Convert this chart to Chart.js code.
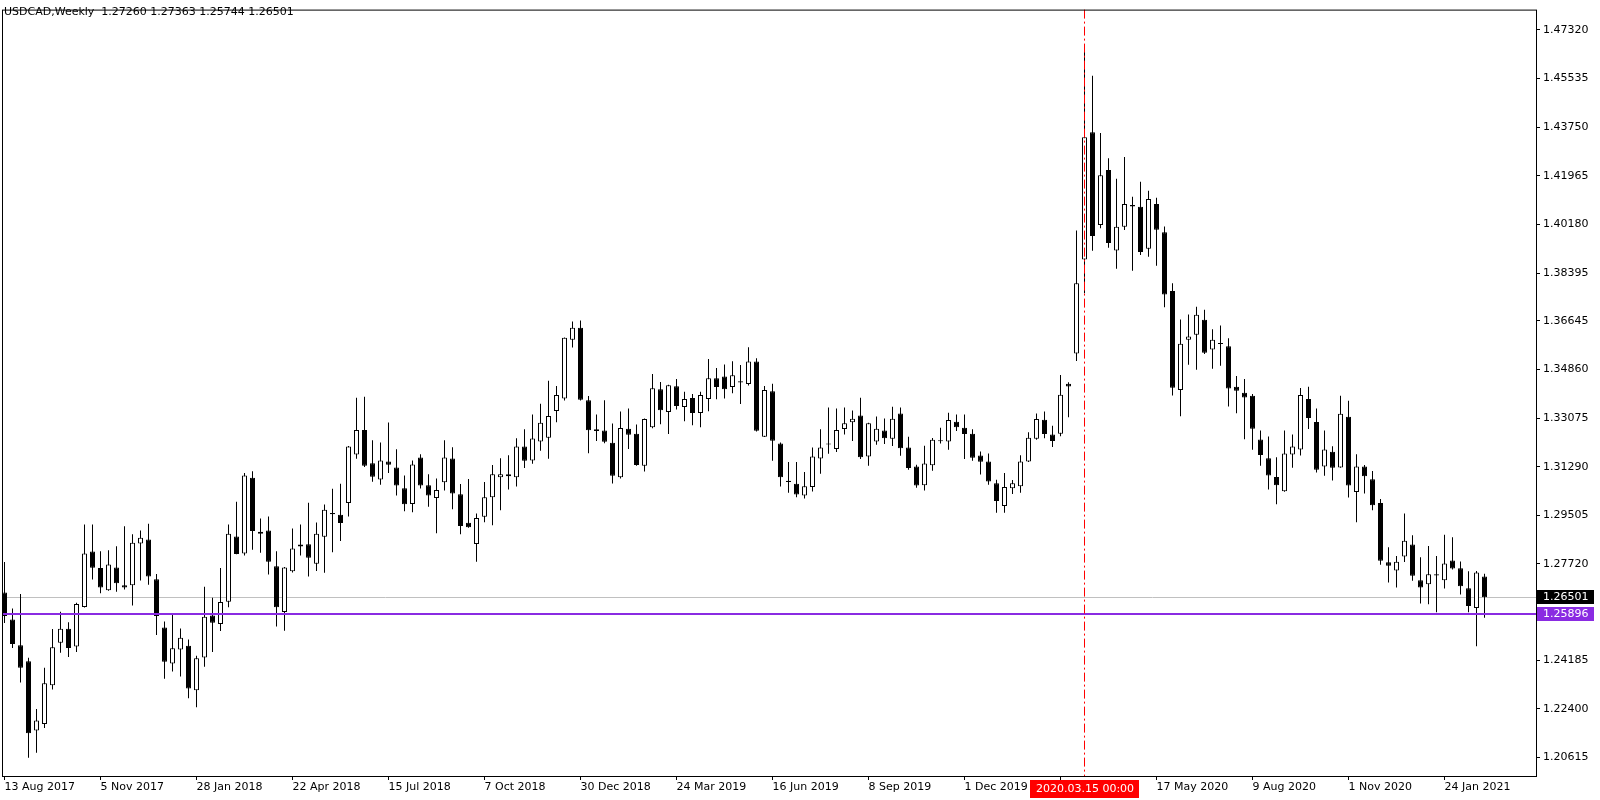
<!DOCTYPE html>
<html>
<head>
<meta charset="utf-8">
<title>USDCAD Weekly</title>
<script src="https://cdn.jsdelivr.net/npm/chart.js@4.4.1/dist/chart.umd.min.js"></script>
<style>
  html, body { margin: 0; padding: 0; background: #fff; }
  canvas { display: block; }
</style>
</head>
<body>
<canvas id="chart" width="1600" height="800"></canvas>
<script>
var symbol = 'USDCAD,Weekly'

// weekly candles, first one = week of 13 Aug 2017
var open = [1.2667, 1.2568, 1.2474, 1.2415, 1.2161, 1.2185, 1.2327, 1.2483, 1.2534, 1.2469,
    1.2614, 1.2818, 1.2757, 1.2676, 1.2759, 1.2694, 1.2694, 1.2847, 1.2862, 1.2716,
    1.2539, 1.2407, 1.2458, 1.2472, 1.2309, 1.2429, 1.2583, 1.2552, 1.2633, 1.2873,
    1.2810, 1.3088, 1.2883, 1.2895, 1.2764, 1.2596, 1.2745, 1.2836, 1.2844, 1.2773,
    1.2872, 1.2959, 1.2953, 1.2996, 1.3174, 1.3264, 1.3142, 1.3082, 1.3148, 1.3126,
    1.3050, 1.2992, 1.3163, 1.3061, 1.3014, 1.3072, 1.3159, 1.3028, 1.2923, 1.2845,
    1.2945, 1.3017, 1.3090, 1.3094, 1.3090, 1.3203, 1.3152, 1.3221, 1.3235, 1.3333,
    1.3379, 1.3595, 1.3639, 1.3373, 1.3266, 1.3262, 1.3217, 1.3090, 1.3268, 1.3250,
    1.3132, 1.3274, 1.3413, 1.3330, 1.3424, 1.3348, 1.3381, 1.3326, 1.3377, 1.3453,
    1.3460, 1.3421, 1.3442, 1.3432, 1.3515, 1.3239, 1.3406, 1.3214, 1.3077, 1.3066,
    1.3023, 1.3054, 1.3159, 1.3210, 1.3194, 1.3267, 1.3292, 1.3317, 1.3166, 1.3221,
    1.3262, 1.3231, 1.3324, 1.3199, 1.3130, 1.3061, 1.3134, 1.3222, 1.3221, 1.3294,
    1.3272, 1.3250, 1.3170, 1.3148, 1.3068, 1.2985, 1.3050, 1.3057, 1.3148, 1.3231,
    1.3301, 1.3247, 1.3250, 1.3433, 1.3544, 1.3889, 1.4356, 1.4016, 1.4218, 1.3922,
    1.4009, 1.4089, 1.4083, 1.3929, 1.4093, 1.3989, 1.3774, 1.3410, 1.3595, 1.3613,
    1.3668, 1.3559, 1.3582, 1.3571, 1.3422, 1.3400, 1.3389, 1.3229, 1.3160, 1.3091,
    1.3039, 1.3174, 1.3192, 1.3377, 1.3293, 1.3130, 1.3184, 1.3126, 1.3312, 1.3036,
    1.3130, 1.3083, 1.2996, 1.2778, 1.2748, 1.2799, 1.2843, 1.2712, 1.2698, 1.2734,
    1.2712, 1.2785, 1.2756, 1.2683, 1.2610, 1.27260]
var high = [1.2779, 1.2609, 1.2662, 1.2428, 1.2240, 1.2391, 1.2533, 1.2597, 1.2558, 1.2630,
    1.2917, 1.2917, 1.2819, 1.2822, 1.2837, 1.2910, 1.2881, 1.2895, 1.2920, 1.2735,
    1.2561, 1.2589, 1.2535, 1.2495, 1.2435, 1.2688, 1.2648, 1.2757, 1.2917, 1.3000,
    1.3106, 1.3112, 1.2939, 1.2946, 1.2819, 1.2761, 1.2902, 1.2917, 1.2997, 1.2924,
    1.2990, 1.3048, 1.3066, 1.3205, 1.3382, 1.3386, 1.3226, 1.3218, 1.3291, 1.3193,
    1.3097, 1.3152, 1.3175, 1.3101, 1.3086, 1.3226, 1.3200, 1.3065, 1.3084, 1.2957,
    1.3073, 1.3135, 1.3160, 1.3171, 1.3233, 1.3266, 1.3320, 1.3360, 1.3444, 1.3425,
    1.3603, 1.3662, 1.3665, 1.3388, 1.3320, 1.3373, 1.3287, 1.3331, 1.3342, 1.3284,
    1.3306, 1.3469, 1.3440, 1.3430, 1.3451, 1.3404, 1.3396, 1.3404, 1.3524, 1.3491,
    1.3504, 1.3516, 1.3502, 1.3567, 1.3527, 1.3425, 1.3433, 1.3218, 1.3146, 1.3146,
    1.3109, 1.3199, 1.3266, 1.3346, 1.3342, 1.3346, 1.3335, 1.3382, 1.3290, 1.3313,
    1.3306, 1.3349, 1.3346, 1.3239, 1.3136, 1.3206, 1.3234, 1.3272, 1.3327, 1.3320,
    1.3320, 1.3266, 1.3185, 1.3177, 1.3081, 1.3106, 1.3080, 1.3171, 1.3255, 1.3324,
    1.3331, 1.3279, 1.3465, 1.3439, 1.3996, 1.4668, 1.4563, 1.4353, 1.4261, 1.4185,
    1.4265, 1.4119, 1.4174, 1.4141, 1.4116, 1.4010, 1.3802, 1.3669, 1.3687, 1.3716,
    1.3705, 1.3633, 1.3647, 1.3600, 1.3462, 1.3451, 1.3396, 1.3262, 1.3240, 1.3164,
    1.3262, 1.3247, 1.3418, 1.3422, 1.3342, 1.3262, 1.3204, 1.3389, 1.3371, 1.3175,
    1.3135, 1.3113, 1.3010, 1.2833, 1.2801, 1.2957, 1.2877, 1.2797, 1.2838, 1.2801,
    1.2879, 1.2870, 1.2781, 1.2745, 1.2746, 1.27363]
var low = [1.2555, 1.2464, 1.2337, 1.2061, 1.2079, 1.2170, 1.2311, 1.2446, 1.2431, 1.2449,
    1.2612, 1.2715, 1.2665, 1.2674, 1.2670, 1.2678, 1.2620, 1.2711, 1.2696, 1.2511,
    1.2351, 1.2377, 1.2359, 1.2279, 1.2246, 1.2395, 1.2449, 1.2526, 1.2613, 1.2808,
    1.2803, 1.2824, 1.2813, 1.2733, 1.2543, 1.2527, 1.2741, 1.2803, 1.2726, 1.2746,
    1.2740, 1.2815, 1.2856, 1.2946, 1.3158, 1.3128, 1.3074, 1.3063, 1.3106, 1.3023,
    1.2965, 1.2962, 1.3049, 1.2982, 1.2885, 1.3042, 1.2973, 1.2881, 1.2905, 1.2780,
    1.2925, 1.2914, 1.2969, 1.3045, 1.3056, 1.3124, 1.3140, 1.3187, 1.3158, 1.3292,
    1.3372, 1.3566, 1.3372, 1.3178, 1.3223, 1.3215, 1.3067, 1.3086, 1.3194, 1.3132,
    1.3111, 1.3270, 1.3285, 1.3249, 1.3339, 1.3296, 1.3281, 1.3274, 1.3332, 1.3376,
    1.3379, 1.3398, 1.3359, 1.3427, 1.3258, 1.3238, 1.3151, 1.3056, 1.3033, 1.3017,
    1.3012, 1.3038, 1.3103, 1.3176, 1.3183, 1.3247, 1.3223, 1.3157, 1.3132, 1.3209,
    1.3212, 1.3205, 1.3169, 1.3118, 1.3052, 1.3042, 1.3114, 1.3214, 1.3191, 1.3260,
    1.3157, 1.3151, 1.3100, 1.3063, 1.2960, 1.2960, 1.3029, 1.3033, 1.3146, 1.3228,
    1.3233, 1.3201, 1.3241, 1.3310, 1.3517, 1.3765, 1.3921, 1.4004, 1.3932, 1.3855,
    1.3997, 1.3848, 1.3906, 1.3899, 1.3866, 1.3714, 1.3390, 1.3314, 1.3503, 1.3485,
    1.3542, 1.3488, 1.3499, 1.3350, 1.3325, 1.3230, 1.3191, 1.3132, 1.3045, 1.2991,
    1.3037, 1.3125, 1.3170, 1.3267, 1.3108, 1.3096, 1.3078, 1.3125, 1.3016, 1.2925,
    1.3031, 1.2969, 1.2769, 1.2704, 1.2686, 1.2779, 1.2710, 1.2627, 1.2624, 1.2595,
    1.2682, 1.2752, 1.2660, 1.2595, 1.2470, 1.25744]
var close = [1.2581, 1.2478, 1.2391, 1.2151, 1.2198, 1.2334, 1.2466, 1.2534, 1.2464, 1.2625,
    1.2810, 1.2758, 1.2686, 1.2770, 1.2701, 1.2686, 1.2850, 1.2868, 1.2726, 1.2581,
    1.2413, 1.2463, 1.2501, 1.2315, 1.2426, 1.2578, 1.2556, 1.2632, 1.2883, 1.2809,
    1.3097, 1.2893, 1.2890, 1.2780, 1.2613, 1.2759, 1.2829, 1.2843, 1.2795, 1.2883,
    1.2971, 1.2954, 1.2922, 1.3203, 1.3264, 1.3132, 1.3092, 1.3152, 1.3136, 1.3060,
    1.2991, 1.3137, 1.3060, 1.3023, 1.3043, 1.3163, 1.3031, 1.2911, 1.2907, 1.2941,
    1.3017, 1.3101, 1.3101, 1.3101, 1.3203, 1.3151, 1.3232, 1.3290, 1.3315, 1.3392,
    1.3602, 1.3639, 1.3375, 1.3263, 1.3260, 1.3220, 1.3096, 1.3271, 1.3246, 1.3135,
    1.3304, 1.3417, 1.3336, 1.3428, 1.3352, 1.3377, 1.3326, 1.3392, 1.3453, 1.3421,
    1.3413, 1.3464, 1.3438, 1.3515, 1.3261, 1.3410, 1.3224, 1.3090, 1.3073, 1.3027,
    1.3057, 1.3166, 1.3199, 1.3214, 1.3264, 1.3288, 1.3305, 1.3164, 1.3288, 1.3268,
    1.3233, 1.3305, 1.3197, 1.3124, 1.3060, 1.3141, 1.3228, 1.3225, 1.3300, 1.3274,
    1.3249, 1.3162, 1.3147, 1.3075, 1.3003, 1.3054, 1.3068, 1.3148, 1.3235, 1.3304,
    1.3249, 1.3223, 1.3393, 1.3423, 1.3802, 1.4338, 1.3975, 1.4198, 1.3950, 1.4009,
    1.4093, 1.4084, 1.3917, 1.4111, 1.3998, 1.3761, 1.3419, 1.3580, 1.3607, 1.3686,
    1.3547, 1.3595, 1.3579, 1.3416, 1.3408, 1.3383, 1.3268, 1.3172, 1.3097, 1.3061,
    1.3177, 1.3203, 1.3392, 1.3308, 1.3118, 1.3192, 1.3125, 1.3323, 1.3060, 1.3130,
    1.3094, 1.2987, 1.2784, 1.2765, 1.2780, 1.2857, 1.2729, 1.2686, 1.2734, 1.2730,
    1.2774, 1.2755, 1.2690, 1.2618, 1.2741, 1.26501]

// date axis: one label every 12 weeks
var xTickIdx = [0, 12, 24, 36, 48, 60, 72, 84, 96, 108, 120, 132, 144, 156, 168, 180]
var xTickText = ['13 Aug 2017', '5 Nov 2017', '28 Jan 2018', '22 Apr 2018', '15 Jul 2018', '7 Oct 2018',
    '30 Dec 2018', '24 Mar 2019', '16 Jun 2019', '8 Sep 2019', '1 Dec 2019', '23 Feb 2020',
    '17 May 2020', '9 Aug 2020', '1 Nov 2020', '24 Jan 2021']
var yTicks = [1.47320, 1.45535, 1.43750, 1.41965, 1.40180, 1.38395, 1.36645, 1.34860,
    1.33075, 1.31290, 1.29505, 1.27720, 1.24185, 1.22400, 1.20615]

var lineLevel = 1.25896      // horizontal line object
var markIdx = 135            // vertical line object
var markText = '2020.03.15 00:00'

var FONT = '11px "DejaVu Sans"'
var last = close.length - 1

var bodies = [], wicks = [], fills = []
for (var i = 0; i < close.length; i++) {
    bodies.push({x: i, y: [open[i], close[i]]})
    wicks.push({x: i, y: [low[i], high[i]]})
    fills.push(close[i] >= open[i] ? '#ffffff' : '#000000')
}

function hLine(ctx, a, y, color, width) {
    ctx.save()
    ctx.strokeStyle = color
    ctx.lineWidth = width
    ctx.beginPath()
    ctx.moveTo(a.left, y)
    ctx.lineTo(a.right, y)
    ctx.stroke()
    ctx.restore()
}

function priceTag(ctx, a, y, text, bg) {
    ctx.save()
    ctx.fillStyle = bg
    ctx.fillRect(a.right + 1, Math.round(y) - 7, 57, 14)
    ctx.fillStyle = '#ffffff'
    ctx.font = FONT
    ctx.textBaseline = 'middle'
    ctx.fillText(text, a.right + 7, Math.round(y) + 0.5)
    ctx.restore()
}

var mt4Overlay = {
    id: 'mt4Overlay',
    beforeDatasetsDraw: function (chart) {
        // bid line sits behind the candles
        var y = Math.round(chart.scales.y.getPixelForValue(close[last])) + 0.5
        hLine(chart.ctx, chart.chartArea, y, '#c0c0c0', 1)
    },
    afterDatasetsDraw: function (chart) {
        var ctx = chart.ctx, a = chart.chartArea
        hLine(ctx, a, Math.round(chart.scales.y.getPixelForValue(lineLevel)), '#8a2be2', 2)

        var x = Math.round(chart.scales.x.getPixelForValue(markIdx) - 0.5) + 0.5
        ctx.save()
        ctx.strokeStyle = '#ff0000'
        ctx.lineWidth = 1
        ctx.setLineDash([9, 3, 2, 3])
        ctx.beginPath()
        ctx.moveTo(x, a.top)
        ctx.lineTo(x, a.bottom)
        ctx.stroke()
        ctx.restore()
    },
    afterDraw: function (chart) {
        var ctx = chart.ctx, a = chart.chartArea
        ctx.save()
        ctx.strokeStyle = '#000000'
        ctx.lineWidth = 1
        ctx.strokeRect(a.left + 0.5, a.top + 0.5, a.right - a.left, a.bottom - a.top)

        ctx.fillStyle = '#000000'
        ctx.font = FONT
        ctx.textBaseline = 'alphabetic'
        ctx.fillText(`${symbol}  ${open[last].toFixed(5)} ${high[last].toFixed(5)} ${low[last].toFixed(5)} ${close[last].toFixed(5)}`, 4, 15)

        // vertical line label on the time axis
        var x = chart.scales.x.getPixelForValue(markIdx)
        ctx.fillStyle = '#ff0000'
        ctx.fillRect(Math.round(x) - 55, a.bottom + 4, 109, 18)
        ctx.fillStyle = '#ffffff'
        ctx.textAlign = 'center'
        ctx.textBaseline = 'middle'
        ctx.fillText(markText, Math.round(x), a.bottom + 13)
        ctx.restore()

        priceTag(ctx, a, chart.scales.y.getPixelForValue(close[last]), close[last].toFixed(5), '#000000')
        priceTag(ctx, a, chart.scales.y.getPixelForValue(lineLevel), lineLevel.toFixed(5), '#8a2be2')
    }
}

Chart.defaults.font.family = '"DejaVu Sans"'
Chart.defaults.font.size = 11
Chart.defaults.color = '#000000'

new Chart(document.getElementById('chart'), {
    type: 'bar',
    data: {
        datasets: [{
            label: 'body',
            data: bodies,
            order: 0,
            grouped: false,
            barThickness: 5,
            minBarLength: 1,
            backgroundColor: fills,
            borderColor: '#000000',
            borderWidth: 1,
            borderSkipped: false,
            inflateAmount: 0
        }, {
            label: 'wick',
            data: wicks,
            order: 1,
            grouped: false,
            barThickness: 1,
            backgroundColor: '#000000',
            borderWidth: 0,
            inflateAmount: 0
        }]
    },
    options: {
        responsive: false,
        animation: false,
        devicePixelRatio: 1,
        layout: {padding: {left: 2, top: 2, right: 0, bottom: 0}},
        plugins: {legend: {display: false}, tooltip: {enabled: false}},
        scales: {
            x: {
                type: 'linear',
                offset: false,
                min: -0.3125,
                max: 191.4375,
                border: {display: false},
                grid: {drawOnChartArea: false, drawTicks: true, tickLength: 4, color: '#000000', offset: false},
                afterBuildTicks: function (scale) {
                    scale.ticks = xTickIdx.map(function (v) { return {value: v} })
                },
                afterFit: function (scale) { scale.height = 24 },
                ticks: {
                    autoSkip: false,
                    maxRotation: 0,
                    align: 'start',
                    padding: 1,
                    callback: function (v, idx) { return xTickText[idx] }
                }
            },
            y: {
                type: 'linear',
                position: 'right',
                min: 1.19940,
                max: 1.48061,
                border: {display: false},
                grid: {drawOnChartArea: false, drawTicks: true, tickLength: 4, color: '#000000'},
                afterBuildTicks: function (scale) {
                    scale.ticks = yTicks.map(function (v) { return {value: v} })
                },
                afterFit: function (scale) { scale.width = 64 },
                ticks: {
                    autoSkip: false,
                    padding: 3,
                    callback: function (v) { return v.toFixed(5) }
                }
            }
        }
    },
    plugins: [mt4Overlay]
})
</script>
</body>
</html>
